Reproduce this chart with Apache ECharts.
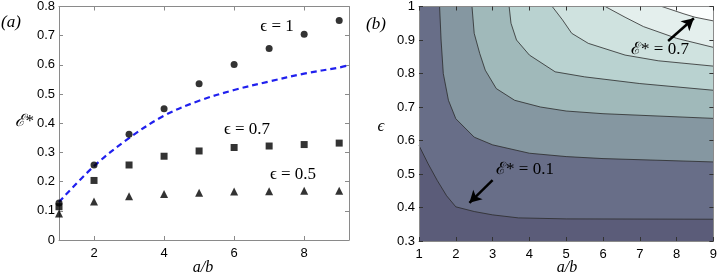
<!DOCTYPE html>
<html><head><meta charset="utf-8">
<script src="https://cdn.jsdelivr.net/npm/echarts@6/dist/echarts.min.js"></script>
<style>html,body{margin:0;padding:0;background:#fff}#c{width:720px;height:279px}</style>
</head><body><div id="c"></div>
<script>
// ---- Panel (a) data ----
const ratioA = [1, 2, 3, 4, 5, 6, 7, 8, 9];
const eStarEps1 = [0.127, 0.257, 0.362, 0.450, 0.535, 0.601, 0.656, 0.705, 0.752];
const eStarEps07 = [0.114, 0.204, 0.257, 0.287, 0.305, 0.317, 0.322, 0.327, 0.332];
const eStarEps05 = [0.091, 0.132, 0.150, 0.158, 0.162, 0.166, 0.167, 0.169, 0.169];
const fitX = [1, 2, 3, 4, 5, 6, 7, 8, 9, 9.28];
const fitY = [0.130, 0.253, 0.349, 0.426, 0.477, 0.514, 0.543, 0.570, 0.591, 0.599];
const xTicksA = [2, 4, 6, 8];
// ---- Panel (b) contour lines (a/b, epsilon), levels 0.1..0.7 ----
const levels = [0.1, 0.2, 0.3, 0.4, 0.5, 0.6, 0.7];
const c01 = [[1,0.585],[1.25,0.53],[1.5,0.48],[1.75,0.435],[2,0.402],[2.5,0.388],[3,0.378],[3.7,0.369],[5,0.366],[9,0.365]];
const c02 = [[1.56,1.0],[1.6,0.9],[1.66,0.8],[1.8,0.72],[2.0,0.665],[2.5,0.61],[3,0.587],[4,0.562],[5,0.552],[6,0.546],[9,0.536]];
const c03 = [[2.44,1.0],[2.5,0.92],[2.65,0.86],[2.8,0.81],[3.1,0.755],[3.6,0.72],[4.3,0.70],[5,0.688],[6,0.68],[9,0.666]];
const c04 = [[3.45,1.0],[3.5,0.95],[3.65,0.9],[4,0.855],[4.7,0.805],[5.5,0.79],[7,0.77],[9,0.75]];
const c05 = [[4.62,1.0],[4.9,0.96],[5.15,0.92],[5.6,0.89],[6.6,0.855],[7.5,0.838],[9,0.822]];
const c06 = [[6.06,1.0],[6.6,0.968],[7.1,0.94],[8,0.905],[9,0.878]];
const c07 = [[7.6,1.0],[8.2,0.978],[8.5,0.968],[9,0.957]];
const contours = [c01, c02, c03, c04, c05, c06, c07];
const bandColors = ['#686e88', '#8597a1', '#a0b9ba', '#b9d2d0', '#cfe2df', '#e4efed', '#fbfdfd'];
const baseColor = '#5b5c79';

const chart = echarts.init(document.getElementById('c'), null, {renderer: 'canvas'});
const sans = 'Liberation Sans, Arial, sans-serif';
const serif = '"Liberation Serif", "DejaVu Serif", serif';
const boxColor = '#8a8a8a';

function axisCommon(extra) {
  return Object.assign({
    type: 'value',
    axisLine: {show: true, onZero: false, lineStyle: {color: boxColor, width: 1}},
    splitLine: {show: false},
  }, extra);
}

const series = [];
// panel (a)
series.push({type: 'line', xAxisIndex: 0, yAxisIndex: 0, data: fitX.map((x, i) => [x, fitY[i]]),
  smooth: 0.35, showSymbol: false, lineStyle: {color: '#2020ee', width: 2.2, type: [6, 4]}, z: 3});
series.push({type: 'scatter', xAxisIndex: 0, yAxisIndex: 0, symbol: 'circle', symbolSize: 7,
  itemStyle: {color: '#000'}, data: ratioA.map((x, i) => [x, eStarEps1[i]]), z: 4});
series.push({type: 'scatter', xAxisIndex: 0, yAxisIndex: 0, symbol: 'rect', symbolSize: 7,
  itemStyle: {color: '#000'}, data: ratioA.map((x, i) => [x, eStarEps07[i]]), z: 4});
series.push({type: 'scatter', xAxisIndex: 0, yAxisIndex: 0, symbol: 'triangle', symbolSize: 8,
  itemStyle: {color: '#000'}, data: ratioA.map((x, i) => [x, eStarEps05[i]]), z: 4});
// panel (b)
contours.forEach((c, i) => {
  series.push({type: 'line', xAxisIndex: 2, yAxisIndex: 2, data: c, showSymbol: false, smooth: false,
    lineStyle: {color: '#2b2b2b', width: 0.8},
    areaStyle: {color: bandColors[i], opacity: 1, origin: 'end'}, z: 2 + i * 0.01,
    clip: true});
});
series.push({type: 'line', xAxisIndex: 2, yAxisIndex: 2, data: [], z: 5,
  markLine: {silent: true, symbol: ['none', 'arrow'], symbolSize: [10, 12],
    lineStyle: {color: '#000', width: 2.5, type: 'solid'}, label: {show: false},
    data: [
      [{coord: [7.77, 0.897]}, {coord: [8.47, 0.965]}],
      [{coord: [3.0, 0.482]}, {coord: [2.37, 0.414]}]
    ]}});

function txt(x, y, text, font) {
  return {type: 'text', x: x, y: y, z: 100, style: {text: text, font: font, fill: '#000',
    align: 'center', verticalAlign: 'middle', textAlign: 'center', textVerticalAlign: 'middle'}};
}

const option = {
  animation: false,
  backgroundColor: '#fff',
  grid: [
    {left: 59, top: 5, width: 290, height: 235, show: false},
    {left: 419, top: 6, width: 297, height: 235, show: true, backgroundColor: baseColor, borderWidth: 0}
  ],
  xAxis: [
    axisCommon({gridIndex: 0, min: 1, max: 9.28, position: 'bottom',
      axisTick: {show: true, inside: true, length: 4, customValues: xTicksA, lineStyle: {color: boxColor}},
      axisLabel: {customValues: xTicksA, color: '#000', fontSize: 13, fontFamily: sans, margin: 7}}),
    axisCommon({gridIndex: 0, min: 1, max: 9.28, position: 'top',
      axisTick: {show: true, inside: true, length: 4, customValues: xTicksA, lineStyle: {color: boxColor}},
      axisLabel: {show: false}}),
    axisCommon({gridIndex: 1, min: 1, max: 9, interval: 1, position: 'bottom', z: 10,
      axisTick: {show: true, inside: true, length: 4, lineStyle: {color: '#333'}},
      axisLabel: {color: '#000', fontSize: 13, fontFamily: sans, margin: 7}}),
    axisCommon({gridIndex: 1, min: 1, max: 9, interval: 1, position: 'top', z: 10,
      axisTick: {show: true, inside: true, length: 4, lineStyle: {color: '#333'}},
      axisLabel: {show: false}})
  ],
  yAxis: [
    axisCommon({gridIndex: 0, min: 0, max: 0.8, interval: 0.1, position: 'left',
      axisTick: {show: true, inside: true, length: 4, lineStyle: {color: boxColor}},
      axisLabel: {color: '#000', fontSize: 13, fontFamily: sans, margin: 4,
        formatter: v => String(Math.round(v * 10) / 10)}}),
    axisCommon({gridIndex: 0, min: 0, max: 0.8, interval: 0.1, position: 'right',
      axisTick: {show: true, inside: true, length: 4, lineStyle: {color: boxColor}},
      axisLabel: {show: false}}),
    axisCommon({gridIndex: 1, min: 0.3, max: 1, interval: 0.1, position: 'left', z: 10,
      axisTick: {show: true, inside: true, length: 4, lineStyle: {color: '#333'}},
      axisLabel: {color: '#000', fontSize: 13, fontFamily: sans, margin: 4,
        formatter: v => String(Math.round(v * 10) / 10)}}),
    axisCommon({gridIndex: 1, min: 0.3, max: 1, interval: 0.1, position: 'right', z: 10,
      axisTick: {show: true, inside: true, length: 4, lineStyle: {color: '#333'}},
      axisLabel: {show: false}})
  ],
  series: series,
  graphic: [
    txt(11, 23, '(a)', 'italic 17px ' + serif),
    txt(376, 25, '(b)', 'italic 17px ' + serif),
    txt(24, 122, 'ℰ*', 'italic 17px ' + serif),
    txt(381, 127, 'ϵ', 'italic 17px ' + serif),
    txt(203, 268, 'a/b', 'italic 16px ' + serif),
    txt(567, 268, 'a/b', 'italic 16px ' + serif),
    txt(277, 27, 'ϵ = 1', '17px ' + serif),
    txt(247, 130, 'ϵ = 0.7', '17px ' + serif),
    txt(293, 175, 'ϵ = 0.5', '17px ' + serif),
    txt(660, 50, 'ℰ* = 0.7', '17px ' + serif),
    txt(525, 170, 'ℰ* = 0.1', '17px ' + serif)
  ]
};
chart.setOption(option);
</script></body></html>
